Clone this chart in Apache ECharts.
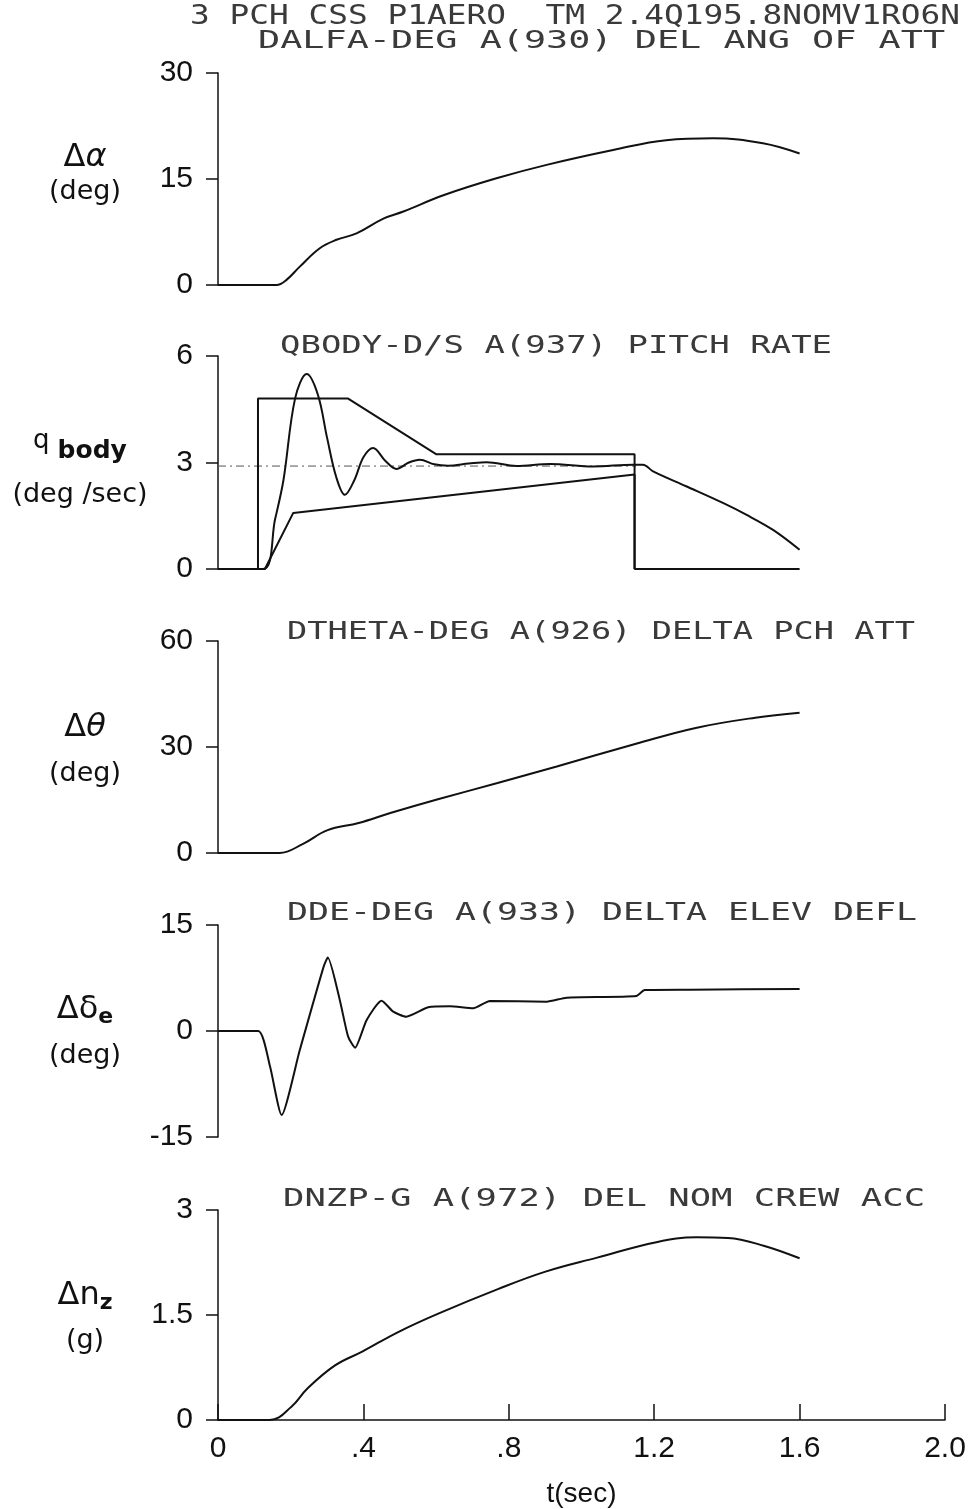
<!DOCTYPE html>
<html>
<head>
<meta charset="utf-8">
<script src="https://cdn.jsdelivr.net/npm/echarts@6/dist/echarts.min.js"></script>
<style>
html, body { margin: 0; padding: 0; background: #fff; }
#chart { width: 976px; height: 1509px; }
</style>
</head>
<body>
<div id="chart"></div>
<script>
// time axis
var xTicks = [0, 0.4, 0.8, 1.2, 1.6, 2.0];
var xTickLabels = ['0', '.4', '.8', '1.2', '1.6', '2.0'];

// panel 1: delta alpha (deg)
var alphaT = [0, 0.161, 0.19, 0.225, 0.28, 0.326, 0.381, 0.455, 0.51, 0.62, 0.766, 0.904, 1.087, 1.233, 1.362, 1.499, 1.6];
var alphaV = [0, 0, 0.8, 2.6, 5.2, 6.4, 7.3, 9.4, 10.4, 12.7, 15.1, 17.0, 19.1, 20.5, 20.75, 20.05, 18.6];

// panel 2: pitch rate (deg/sec)
var qT = [0, 0.124, 0.157, 0.18, 0.212, 0.244, 0.275, 0.3, 0.325, 0.349, 0.375, 0.4, 0.427, 0.46, 0.491, 0.525, 0.555, 0.595, 0.633, 0.69, 0.739, 0.821, 0.913, 1.032, 1.142, 1.169, 1.197, 1.288, 1.389, 1.453, 1.527, 1.6];
var qV = [0, 0, 1.4, 2.5, 4.8, 5.49, 4.9, 3.7, 2.6, 2.09, 2.5, 3.15, 3.41, 3.05, 2.82, 3.0, 3.08, 2.95, 2.91, 2.97, 3.01, 2.9, 2.96, 2.89, 2.94, 2.94, 2.75, 2.33, 1.86, 1.53, 1.1, 0.54];
var qUpperT = [0, 0.11, 0.11, 0.358, 0.601, 1.146, 1.146, 1.6];
var qUpperV = [0, 0, 4.8, 4.8, 3.23, 3.23, 0, 0];
var qLowerT = [0, 0.129, 0.207, 1.146, 1.146];
var qLowerV = [0, 0, 1.58, 2.66, 0];
var qRefT = [0, 1.15];
var qRefV = [2.9, 2.9];

// panel 3: delta theta (deg)
var thetaT = [0, 0.169, 0.234, 0.3, 0.387, 0.474, 0.605, 0.769, 0.932, 1.15, 1.314, 1.478, 1.6];
var thetaV = [0, 0, 2.6, 6.4, 8.5, 11.3, 15.2, 19.8, 24.5, 30.9, 35.4, 38.3, 39.7];

// panel 4: delta elevator (deg)
var deT = [0, 0.111, 0.143, 0.175, 0.225, 0.29, 0.302, 0.335, 0.358, 0.377, 0.409, 0.45, 0.482, 0.518, 0.578, 0.638, 0.702, 0.748, 0.904, 0.959, 1.151, 1.174, 1.3, 1.6];
var deV = [0, 0, -5.0, -11.9, -2.7, 9.0, 10.4, 4.4, -0.8, -2.36, 1.56, 4.29, 2.74, 2.03, 3.35, 3.5, 3.21, 4.25, 4.15, 4.72, 4.95, 5.8, 5.85, 5.95];

// panel 5: delta nz (g)
var nzT = [0, 0.142, 0.202, 0.246, 0.322, 0.398, 0.497, 0.606, 0.77, 0.901, 1.043, 1.206, 1.316, 1.403, 1.501, 1.6];
var nzV = [0, 0, 0.19, 0.45, 0.78, 0.98, 1.26, 1.52, 1.87, 2.12, 2.32, 2.54, 2.61, 2.6, 2.49, 2.31];

var yMins = [0, 0, 0, -15, 0];
var yMaxs = [30, 6, 60, 15, 3];
var yIntervals = [15, 3, 30, 15, 1.5];

function zip(t, v) {
  var out = [];
  for (var i = 0; i < t.length; i++) out.push([t[i], v[i]]);
  return out;
}

var chart = echarts.init(document.getElementById('chart'));

var numFont = 'Liberation Sans';
var gridTops = [73, 356, 641, 925, 1210];
var gridHeights = [212, 213, 212, 212, 211];
var grids = [], xAxes = [], yAxes = [];
for (var i = 0; i < 5; i++) {
  var last = i === 4;
  grids.push({ left: 218, top: gridTops[i], width: 727, height: gridHeights[i] });
  xAxes.push({
    type: 'value', gridIndex: i, min: 0, max: 2, interval: 0.4,
    axisLine: { show: last, lineStyle: { color: '#111', width: 1.5 } },
    axisTick: { show: last, inside: true, length: 16, lineStyle: { color: '#111', width: 1.5 } },
    axisLabel: {
      show: last, margin: 14, color: '#111', fontSize: 30, fontFamily: numFont,
      formatter: function (v) {
        var k = xTicks.indexOf(Math.round(v * 10) / 10);
        return k >= 0 ? xTickLabels[k] : '';
      }
    },
    splitLine: { show: false },
    name: last ? 't(sec)' : '', nameLocation: 'middle', nameGap: 60,
    nameTextStyle: { color: '#111', fontSize: 28, fontFamily: numFont }
  });
  yAxes.push({
    type: 'value', gridIndex: i, min: yMins[i], max: yMaxs[i], interval: yIntervals[i],
    axisLine: { show: true, onZero: false, lineStyle: { color: '#111', width: 1.5 } },
    axisTick: { show: true, length: 12, lineStyle: { color: '#111', width: 1.5 } },
    axisLabel: { margin: 25, color: '#111', fontSize: 30, fontFamily: numFont },
    splitLine: { show: false }
  });
}

function curve(idx, t, v, smooth) {
  return {
    type: 'line', xAxisIndex: idx, yAxisIndex: idx, data: zip(t, v),
    showSymbol: false, smooth: smooth || false,
    lineStyle: { color: '#111', width: 2 }, silent: true, animation: false
  };
}

var refLine = curve(1, qRefT, qRefV, false);
refLine.lineStyle = { color: '#555', width: 1, type: [8, 4, 2, 4] };

var series = [
  curve(0, alphaT, alphaV, 0.4),
  refLine,
  curve(1, qUpperT, qUpperV, false),
  curve(1, qLowerT, qLowerV, false),
  curve(1, qT, qV, 0.35),
  curve(2, thetaT, thetaV, 0.4),
  curve(3, deT, deV, 0.2),
  curve(4, nzT, nzV, 0.4)
];

// stretched plotter-style titles
var mono = 'DejaVu Sans Mono';
function plotText(text, left, right, y, size) {
  var natural = text.length * 0.602 * size;
  return {
    type: 'text', x: left, y: y, scaleX: (right - left) / natural, silent: true,
    style: { text: text, x: 0, y: 0, fill: '#3a3a3a', fontSize: size, fontFamily: mono,
      textAlign: 'left', textVerticalAlign: 'middle' }
  };
}

var sans = 'DejaVu Sans';
function label(text, x, y, size, rich) {
  return {
    type: 'text', x: x, y: y, silent: true,
    style: { text: text, x: 0, y: 0, fill: '#111', fontSize: size, fontFamily: sans,
      textAlign: 'center', textVerticalAlign: 'middle', rich: rich }
  };
}
var subRich = {
  m: { fontSize: 32, fontFamily: sans, fill: '#111' },
  i: { fontSize: 32, fontFamily: sans, fontStyle: 'italic', fill: '#111' },
  s: { fontSize: 22, fontFamily: sans, fontWeight: 'bold', fill: '#111', padding: [14, 0, 0, 0] },
  q: { fontSize: 26, fontFamily: sans, fill: '#111', padding: [0, 8, 10, 0] },
  b: { fontSize: 25, fontFamily: sans, fontWeight: 'bold', fill: '#111', padding: [10, 0, 0, 0] }
};

var graphics = [
  plotText('3 PCH CSS P1AERO  TM 2.4Q195.8NOMV1RO6N', 190, 960, 17, 27),
  plotText('DALFA-DEG A(930) DEL ANG OF ATT', 258, 945, 41, 25),
  plotText('QBODY-D/S A(937) PITCH RATE', 280, 832, 346, 25),
  plotText('DTHETA-DEG A(926) DELTA PCH ATT', 287, 915, 632, 25),
  plotText('DDE-DEG A(933) DELTA ELEV DEFL', 287, 917, 913, 25),
  plotText('DNZP-G A(972) DEL NOM CREW ACC', 283, 925, 1199, 25),
  label('{m|Δ}{i|α}', 85, 158, 32, subRich),
  label('(deg)', 85, 192, 27),
  label('{q|q}{b|body}', 80, 446, 26, subRich),
  label('(deg /sec)', 80, 495, 27),
  label('{m|Δ}{i|θ}', 85, 728, 32, subRich),
  label('(deg)', 85, 774, 27),
  label('{m|Δδ}{s|e}', 85, 1010, 32, subRich),
  label('(deg)', 85, 1056, 27),
  label('{m|Δn}{s|z}', 85, 1296, 32, subRich),
  label('(g)', 85, 1341, 27)
];

chart.setOption({
  animation: false,
  backgroundColor: '#fff',
  grid: grids,
  xAxis: xAxes,
  yAxis: yAxes,
  series: series,
  graphic: graphics
});
</script>
</body>
</html>
